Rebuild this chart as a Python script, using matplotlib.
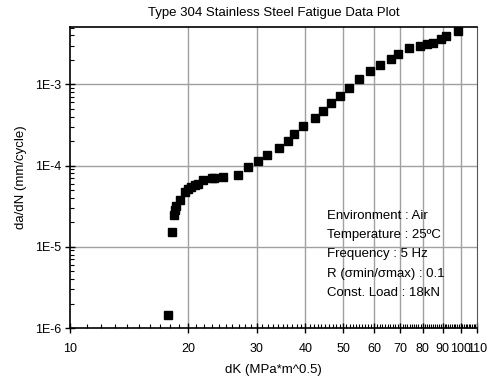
import matplotlib
matplotlib.use("Agg")
import matplotlib.pyplot as plt
from matplotlib.ticker import FixedLocator, NullFormatter, LogLocator, FuncFormatter

plt.rcParams["font.family"] = ["Liberation Sans", "DejaVu Sans"]

# fatigue crack growth data
dk = [17.84, 18.23, 18.45, 18.55, 18.65, 19.08, 19.61, 20.0, 20.4, 20.88, 21.22,
      21.93, 23.1, 23.4, 24.59, 26.88, 28.56, 30.18, 31.9, 34.17, 36.18, 37.49,
      39.54, 42.27, 44.32, 46.57, 49.2, 51.8, 54.95, 58.6, 62.3, 66.4, 69.2,
      73.8, 78.6, 81.8, 85.1, 88.9, 92.0, 98.6]
dadn = [1.45e-6, 1.54e-5, 2.45e-5, 2.8e-5, 3.15e-5, 3.78e-5, 4.69e-5, 5.11e-5,
        5.41e-5, 5.77e-5, 5.94e-5, 6.59e-5, 6.95e-5, 7.1e-5, 7.24e-5, 7.73e-5,
        9.69e-5, 1.15e-4, 1.34e-4, 1.63e-4, 2.01e-4, 2.43e-4, 3.10e-4, 3.82e-4,
        4.70e-4, 5.84e-4, 7.24e-4, 9.0e-4, 1.16e-3, 1.46e-3, 1.74e-3, 2.03e-3,
        2.34e-3, 2.77e-3, 2.94e-3, 3.12e-3, 3.2e-3, 3.61e-3, 3.93e-3, 4.56e-3]

x_ticks = [10, 20, 30, 40, 50, 60, 70, 80, 90, 100, 110]
y_ticks = [1e-6, 1e-5, 1e-4, 1e-3]
y_labels = ["1E-6", "1E-5", "1E-4", "1E-3"]
notes = ["Environment : Air", "Temperature : 25\u00baC", "Frequency : 5 Hz",
         "R (\u03c3min/\u03c3max) : 0.1", "Const. Load : 18kN"]

fig = plt.figure(figsize=(4.92, 3.81), dpi=100)
ax = fig.add_axes([0.1431, 0.1391, 0.8259, 0.79])
ax.set_xscale("log")
ax.set_yscale("log")
ax.set_xlim(10, 110)
ax.set_ylim(1e-6, 5.07e-3)

ax.xaxis.set_major_locator(FixedLocator(x_ticks))
ax.xaxis.set_major_formatter(FuncFormatter(lambda v, p: f"{v:g}"))
ax.xaxis.set_minor_locator(FixedLocator([v for v in range(11, 110) if v % 10]))
ax.xaxis.set_minor_formatter(NullFormatter())
ax.yaxis.set_major_locator(FixedLocator(y_ticks))
ax.set_yticklabels(y_labels)
ax.yaxis.set_minor_locator(LogLocator(base=10, subs=range(2, 10)))
ax.yaxis.set_minor_formatter(NullFormatter())

ax.tick_params(which="major", direction="inout", length=7, width=1, labelsize=9)
ax.tick_params(axis="x", which="major", pad=7)
ax.tick_params(axis="y", which="major", pad=3)
ax.tick_params(which="minor", direction="in", length=3, width=0.8)
ax.tick_params(top=False, right=False)

for v in x_ticks[1:-1]:
    ax.axvline(v, color="#a0a0a0", lw=1, zorder=1)
for v in y_ticks[1:]:
    ax.axhline(v, color="#a0a0a0", lw=1, zorder=1)

for s in ["left", "bottom", "top"]:
    ax.spines[s].set_linewidth(1.2)
ax.spines["right"].set_color("#555555")

ax.plot(dk, dadn, "s", color="black", markersize=6, zorder=3)

ax.set_title("Type 304 Stainless Steel Fatigue Data Plot", fontsize=9.5, pad=8)
ax.set_xlabel("dK (MPa*m^0.5)", fontsize=9.5, labelpad=7)
ax.set_ylabel("da/dN (mm/cycle)", fontsize=9.5, labelpad=6)

ax.text(0.632, 0.392, "\n".join(notes), transform=ax.transAxes, va="top", ha="left",
        fontsize=9.5, linespacing=1.8)

fig.savefig("out.png", dpi=100)
